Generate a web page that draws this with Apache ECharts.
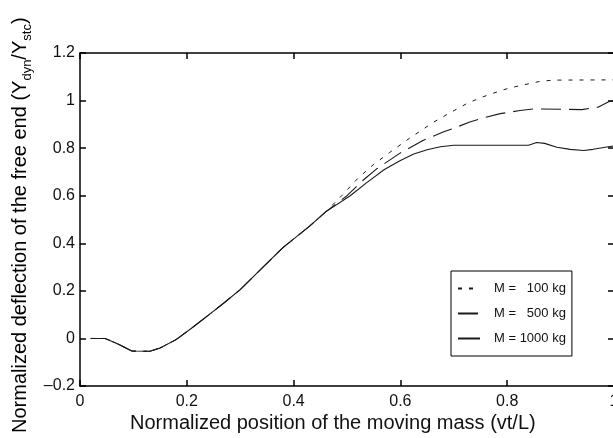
<!DOCTYPE html>
<html>
<head>
<meta charset="utf-8">
<script src="https://cdn.jsdelivr.net/npm/echarts@6/dist/echarts.min.js"></script>
<style>
html,body{margin:0;padding:0;background:#fff;}
#chart{width:613px;height:438px;}
</style>
</head>
<body>
<div id="chart"></div>
<script>
// Shared part of the response (all masses coincide)
var sharedX = [0.02, 0.047, 0.07, 0.097, 0.131, 0.15, 0.18, 0.21, 0.24, 0.27, 0.30, 0.337, 0.38, 0.43, 0.46];
var sharedY = [0.0, 0.0, -0.022, -0.053, -0.054, -0.04, -0.005, 0.045, 0.097, 0.15, 0.205, 0.287, 0.382, 0.472, 0.532];

// M = 100 kg tail
var x100 = [0.49, 0.52, 0.549, 0.58, 0.618, 0.662, 0.69, 0.724, 0.75, 0.774, 0.8, 0.824, 0.86, 0.886, 1.0];
var y100 = [0.60, 0.672, 0.73, 0.782, 0.843, 0.909, 0.945, 0.987, 1.012, 1.031, 1.05, 1.063, 1.08, 1.086, 1.087];

// M = 500 kg tail
var x500 = [0.50, 0.53, 0.555, 0.6, 0.643, 0.68, 0.705, 0.73, 0.76, 0.787, 0.824, 0.85, 0.94, 0.97, 0.99, 1.0];
var y500 = [0.60, 0.665, 0.712, 0.78, 0.833, 0.868, 0.888, 0.91, 0.93, 0.945, 0.958, 0.965, 0.962, 0.972, 0.995, 1.0];

// M = 1000 kg tail
var x1000 = [0.506, 0.537, 0.57, 0.6, 0.625, 0.65, 0.675, 0.70, 0.84, 0.855, 0.87, 0.893, 0.918, 0.943, 0.961, 1.0];
var y1000 = [0.6, 0.655, 0.71, 0.748, 0.775, 0.793, 0.806, 0.812, 0.812, 0.824, 0.82, 0.804, 0.795, 0.79, 0.795, 0.81];

var seriesNames = ['M =   100 kg', 'M =   500 kg', 'M = 1000 kg'];
var xTicks = [0, 0.2, 0.4, 0.6, 0.8, 1];
var yTicks = [-0.2, 0, 0.2, 0.4, 0.6, 0.8, 1, 1.2];

function build(tx, ty) {
  var out = [];
  for (var i = 0; i < sharedX.length; i++) out.push([sharedX[i], sharedY[i]]);
  for (var j = 0; j < tx.length; j++) out.push([tx[j], ty[j]]);
  return out;
}
function fmt(v) {
  var n = parseFloat(Number(v).toFixed(1));
  return n < 0 ? '\u2013' + Math.abs(n) : String(n);
}

var chart = echarts.init(document.getElementById('chart'), null, {renderer: 'canvas'});
var FONT = 'Liberation Sans, Arial, sans-serif';
var lineCol = '#1a1a1a';

function tick() { return {show: true, inside: true, length: 6, lineStyle: {color: '#000', width: 1.5}}; }
function axLine() { return {show: true, onZero: false, lineStyle: {color: '#000', width: 1.5}}; }

chart.setOption({
  animation: false,
  backgroundColor: '#fff',
  grid: {left: 80, top: 53, width: 534, height: 333, outerBoundsMode: 'none'},
  legend: {
    orient: 'vertical', left: 451, top: 271,
    itemWidth: 22, itemHeight: 14, itemGap: 12,
    padding: [11, 6, 11, 6],
    borderColor: '#000', borderWidth: 1,
    itemStyle: {opacity: 0},
    textStyle: {fontFamily: FONT, fontSize: 13, color: '#111', padding: [0, 0, 0, 9]},
    data: seriesNames
  },
  xAxis: [{
    type: 'value', min: xTicks[0], max: xTicks[xTicks.length - 1], interval: 0.2,
    axisLine: axLine(),
    axisTick: tick(),
    splitLine: {show: false},
    axisLabel: {fontFamily: FONT, fontSize: 16, color: '#111', margin: 8, formatter: fmt}
  }, {
    type: 'value', min: xTicks[0], max: xTicks[xTicks.length - 1], interval: 0.2,
    position: 'top',
    axisLine: axLine(),
    axisTick: tick(),
    splitLine: {show: false},
    axisLabel: {show: false}
  }],
  yAxis: [{
    type: 'value', min: yTicks[0], max: yTicks[yTicks.length - 1], interval: 0.2,
    axisLine: axLine(),
    axisTick: tick(),
    splitLine: {show: false},
    axisLabel: {fontFamily: FONT, fontSize: 16, color: '#111', margin: 5, formatter: fmt}
  }, {
    type: 'value', min: yTicks[0], max: yTicks[yTicks.length - 1], interval: 0.2,
    position: 'right',
    axisLine: axLine(),
    axisTick: tick(),
    splitLine: {show: false},
    axisLabel: {show: false}
  }],
  series: [{
    name: seriesNames[0], type: 'line', symbol: 'none', smooth: false,
    data: build(x100, y100),
    lineStyle: {color: lineCol, width: 1, type: [4, 7]},
    itemStyle: {color: lineCol}
  }, {
    name: seriesNames[1], type: 'line', symbol: 'none', smooth: false,
    data: build(x500, y500),
    lineStyle: {color: lineCol, width: 1.1, type: [20, 8]},
    itemStyle: {color: lineCol}
  }, {
    name: seriesNames[2], type: 'line', symbol: 'none', smooth: false,
    data: build(x1000, y1000),
    lineStyle: {color: lineCol, width: 1.1, type: 'solid'},
    itemStyle: {color: lineCol}
  }],
  graphic: [{
    type: 'text', left: 130, top: 413,
    style: {text: 'Normalized position of the moving mass (vt/L)', font: '20px ' + FONT, fill: '#111'}
  }, {
    type: 'text', x: 22, y: 433, rotation: Math.PI / 2,
    style: {
      text: '{a|Normalized deflection of the free end (Y}{s|dyn}{a|/Y}{s|stc}{a|)}',
      align: 'left', verticalAlign: 'middle',
      rich: {
        a: {fontFamily: FONT, fontSize: 20, color: '#111', lineHeight: 20, verticalAlign: 'top'},
        s: {fontFamily: FONT, fontSize: 13, color: '#111', lineHeight: 24, verticalAlign: 'bottom'}
      }
    }
  }]
});
</script>
</body>
</html>
